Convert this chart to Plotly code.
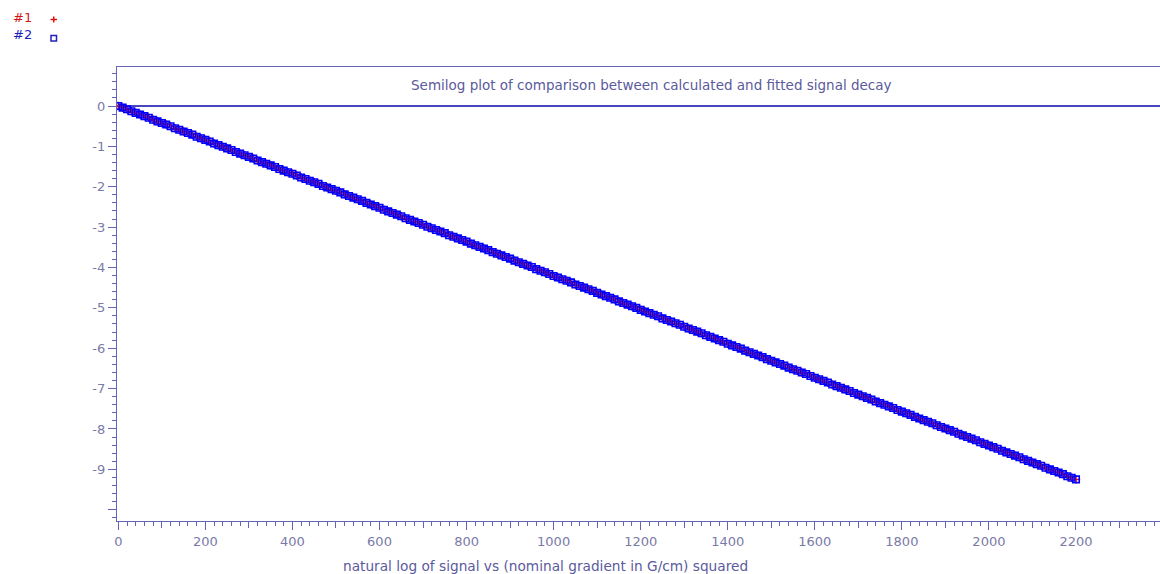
import plotly.graph_objects as go

# Squared nominal gradient (G/cm)^2
grad_sq = [
    0, 10, 20, 30, 40, 50, 60, 70, 80, 90,
    100, 110, 120, 130, 140, 150, 160, 170, 180, 190,
    200, 210, 220, 230, 240, 250, 260, 270, 280, 290,
    300, 310, 320, 330, 340, 350, 360, 370, 380, 390,
    400, 410, 420, 430, 440, 450, 460, 470, 480, 490,
    500, 510, 520, 530, 540, 550, 560, 570, 580, 590,
    600, 610, 620, 630, 640, 650, 660, 670, 680, 690,
    700, 710, 720, 730, 740, 750, 760, 770, 780, 790,
    800, 810, 820, 830, 840, 850, 860, 870, 880, 890,
    900, 910, 920, 930, 940, 950, 960, 970, 980, 990,
    1000, 1010, 1020, 1030, 1040, 1050, 1060, 1070, 1080, 1090,
    1100, 1110, 1120, 1130, 1140, 1150, 1160, 1170, 1180, 1190,
    1200, 1210, 1220, 1230, 1240, 1250, 1260, 1270, 1280, 1290,
    1300, 1310, 1320, 1330, 1340, 1350, 1360, 1370, 1380, 1390,
    1400, 1410, 1420, 1430, 1440, 1450, 1460, 1470, 1480, 1490,
    1500, 1510, 1520, 1530, 1540, 1550, 1560, 1570, 1580, 1590,
    1600, 1610, 1620, 1630, 1640, 1650, 1660, 1670, 1680, 1690,
    1700, 1710, 1720, 1730, 1740, 1750, 1760, 1770, 1780, 1790,
    1800, 1810, 1820, 1830, 1840, 1850, 1860, 1870, 1880, 1890,
    1900, 1910, 1920, 1930, 1940, 1950, 1960, 1970, 1980, 1990,
    2000, 2010, 2020, 2030, 2040, 2050, 2060, 2070, 2080, 2090,
    2100, 2110, 2120, 2130, 2140, 2150, 2160, 2170, 2180, 2190,
    2200,
]

# #1: calculated ln(signal)
ln_calc = [
    0.00, -0.04, -0.08, -0.13, -0.17, -0.21, -0.25, -0.29, -0.34, -0.38,
    -0.42, -0.46, -0.50, -0.55, -0.59, -0.63, -0.67, -0.71, -0.76, -0.80,
    -0.84, -0.88, -0.93, -0.97, -1.01, -1.05, -1.09, -1.14, -1.18, -1.22,
    -1.26, -1.30, -1.35, -1.39, -1.43, -1.47, -1.51, -1.56, -1.60, -1.64,
    -1.68, -1.72, -1.77, -1.81, -1.85, -1.89, -1.93, -1.98, -2.02, -2.06,
    -2.10, -2.14, -2.19, -2.23, -2.27, -2.31, -2.35, -2.40, -2.44, -2.48,
    -2.52, -2.57, -2.61, -2.65, -2.69, -2.73, -2.78, -2.82, -2.86, -2.90,
    -2.94, -2.99, -3.03, -3.07, -3.11, -3.15, -3.20, -3.24, -3.28, -3.32,
    -3.36, -3.41, -3.45, -3.49, -3.53, -3.57, -3.62, -3.66, -3.70, -3.74,
    -3.78, -3.83, -3.87, -3.91, -3.95, -3.99, -4.04, -4.08, -4.12, -4.16,
    -4.21, -4.25, -4.29, -4.33, -4.37, -4.42, -4.46, -4.50, -4.54, -4.58,
    -4.63, -4.67, -4.71, -4.75, -4.79, -4.84, -4.88, -4.92, -4.96, -5.00,
    -5.05, -5.09, -5.13, -5.17, -5.21, -5.26, -5.30, -5.34, -5.38, -5.42,
    -5.47, -5.51, -5.55, -5.59, -5.63, -5.68, -5.72, -5.76, -5.80, -5.84,
    -5.89, -5.93, -5.97, -6.01, -6.06, -6.10, -6.14, -6.18, -6.22, -6.27,
    -6.31, -6.35, -6.39, -6.43, -6.48, -6.52, -6.56, -6.60, -6.64, -6.69,
    -6.73, -6.77, -6.81, -6.85, -6.90, -6.94, -6.98, -7.02, -7.06, -7.11,
    -7.15, -7.19, -7.23, -7.27, -7.32, -7.36, -7.40, -7.44, -7.48, -7.53,
    -7.57, -7.61, -7.65, -7.70, -7.74, -7.78, -7.82, -7.86, -7.91, -7.95,
    -7.99, -8.03, -8.07, -8.12, -8.16, -8.20, -8.24, -8.28, -8.33, -8.37,
    -8.41, -8.45, -8.49, -8.54, -8.58, -8.62, -8.66, -8.70, -8.75, -8.79,
    -8.83, -8.87, -8.91, -8.96, -9.00, -9.04, -9.08, -9.12, -9.17, -9.21,
    -9.25,
]

# #2: fitted ln(signal) -- coincides with #1 at this resolution
ln_fit = list(ln_calc)

x_tick_vals = [0, 200, 400, 600, 800, 1000, 1200, 1400, 1600, 1800, 2000, 2200]
x_tick_text = ["0", "200", "400", "600", "800", "1000", "1200", "1400",
               "1600", "1800", "2000", "2200"]
x_mid_ticks = [100, 300, 500, 700, 900, 1100, 1300, 1500, 1700, 1900, 2100, 2300]
y_tick_vals = [0, -1, -2, -3, -4, -5, -6, -7, -8, -9, -10]
y_tick_text = ["0", "-1", "-2", "-3", "-4", "-5", "-6", "-7", "-8", "-9", ""]

title_text = "Semilog plot of comparison between calculated and fitted signal decay"
x_label = "natural log of signal vs (nominal gradient in G/cm) squared"

W, H = 1160, 574
ML, MR, MT, MB = 117, 0, 67, 53
PW, PH = W - ML - MR, H - MT - MB

AXIS = "#6464b8"
TICKTXT = "#7a7aa8"
TXT = "#5a5a9c"
FONT = "DejaVu Sans"


def px(xp):
    return (xp - ML) / PW


def py(yp):
    return (H - MB - yp) / PH


fig = go.Figure()

fig.add_trace(go.Scatter(
    x=grad_sq, y=ln_calc, mode="markers", name="#1",
    marker=dict(symbol="cross-thin", size=6, line=dict(color="#e01010", width=1.5)),
    showlegend=False,
))
fig.add_trace(go.Scatter(
    x=grad_sq, y=ln_fit, mode="markers", name="#2",
    marker=dict(symbol="square-open", size=6.5, color="#0000ff",
                line=dict(color="#0000ff", width=1.6)),
    showlegend=False,
))

x_range = [-3, 2393]
y_range = [-10.28, 0.966]

fig.update_layout(
    width=W, height=H,
    margin=dict(l=ML, r=MR, t=MT, b=MB, autoexpand=False),
    paper_bgcolor="white", plot_bgcolor="white",
    font=dict(family=FONT, size=12, color=TXT),
    xaxis=dict(
        range=x_range, showgrid=False, zeroline=False,
        showline=True, linecolor=AXIS, linewidth=1.3, mirror=True,
        ticks="outside", ticklen=8, tickwidth=1, tickcolor=AXIS,
        tickvals=x_tick_vals, ticktext=x_tick_text,
        tickfont=dict(family=FONT, size=13, color=TICKTXT),
        minor=dict(dtick=20, tick0=0, ticks="outside", ticklen=4, tickcolor=AXIS, tickwidth=1),
    ),
    xaxis2=dict(
        range=x_range, overlaying="x", anchor="y", side="bottom",
        showgrid=False, zeroline=False, showline=False,
        ticks="outside", ticklen=6, tickwidth=1, tickcolor=AXIS,
        tickvals=x_mid_ticks, showticklabels=False,
    ),
    yaxis=dict(
        range=y_range, showgrid=False,
        zeroline=True, zerolinecolor="#4646c0", zerolinewidth=1.5,
        showline=True, linecolor=AXIS, linewidth=1.3,
        ticks="outside", ticklen=8, tickwidth=1, tickcolor=AXIS,
        tickvals=y_tick_vals, ticktext=y_tick_text,
        tickfont=dict(family=FONT, size=13, color=TICKTXT),
        minor=dict(dtick=0.2, tick0=0, ticks="outside", ticklen=4, tickcolor=AXIS, tickwidth=1),
    ),
)

# empty trace so the overlay axis for the 100-step ticks is drawn
fig.add_trace(go.Scatter(x=[], y=[], xaxis="x2", yaxis="y", showlegend=False))

annotations = [
    dict(text=title_text, x=px(651), y=py(85), xref="paper", yref="paper",
         showarrow=False, xanchor="center", yanchor="middle",
         font=dict(family=FONT, size=13.5, color=TXT)),
    dict(text=x_label, x=px(545), y=py(566), xref="paper", yref="paper",
         showarrow=False, xanchor="center", yanchor="middle",
         font=dict(family=FONT, size=13.7, color=TXT)),
    dict(text="#1", x=px(11), y=py(17), xref="paper", yref="paper",
         showarrow=False, xanchor="left", yanchor="middle",
         font=dict(family=FONT, size=13, color="#d01818")),
    dict(text="#2", x=px(11), y=py(35), xref="paper", yref="paper",
         showarrow=False, xanchor="left", yanchor="middle",
         font=dict(family=FONT, size=13, color="#2020c0")),
]
fig.update_layout(annotations=annotations)

# key glyphs beside the series names
shapes = [
    dict(type="line", xref="paper", yref="paper", x0=px(50.5), x1=px(57), y0=py(19.5), y1=py(19.5),
         line=dict(color="#e01010", width=1.5)),
    dict(type="line", xref="paper", yref="paper", x0=px(53.75), x1=px(53.75), y0=py(16.5), y1=py(22.5),
         line=dict(color="#e01010", width=1.5)),
    dict(type="rect", xref="paper", yref="paper", x0=px(51), x1=px(56.5), y0=py(35.5), y1=py(41),
         line=dict(color="#2020c0", width=1.5)),
]
fig.update_layout(shapes=shapes)

fig.write_html("out.html")
